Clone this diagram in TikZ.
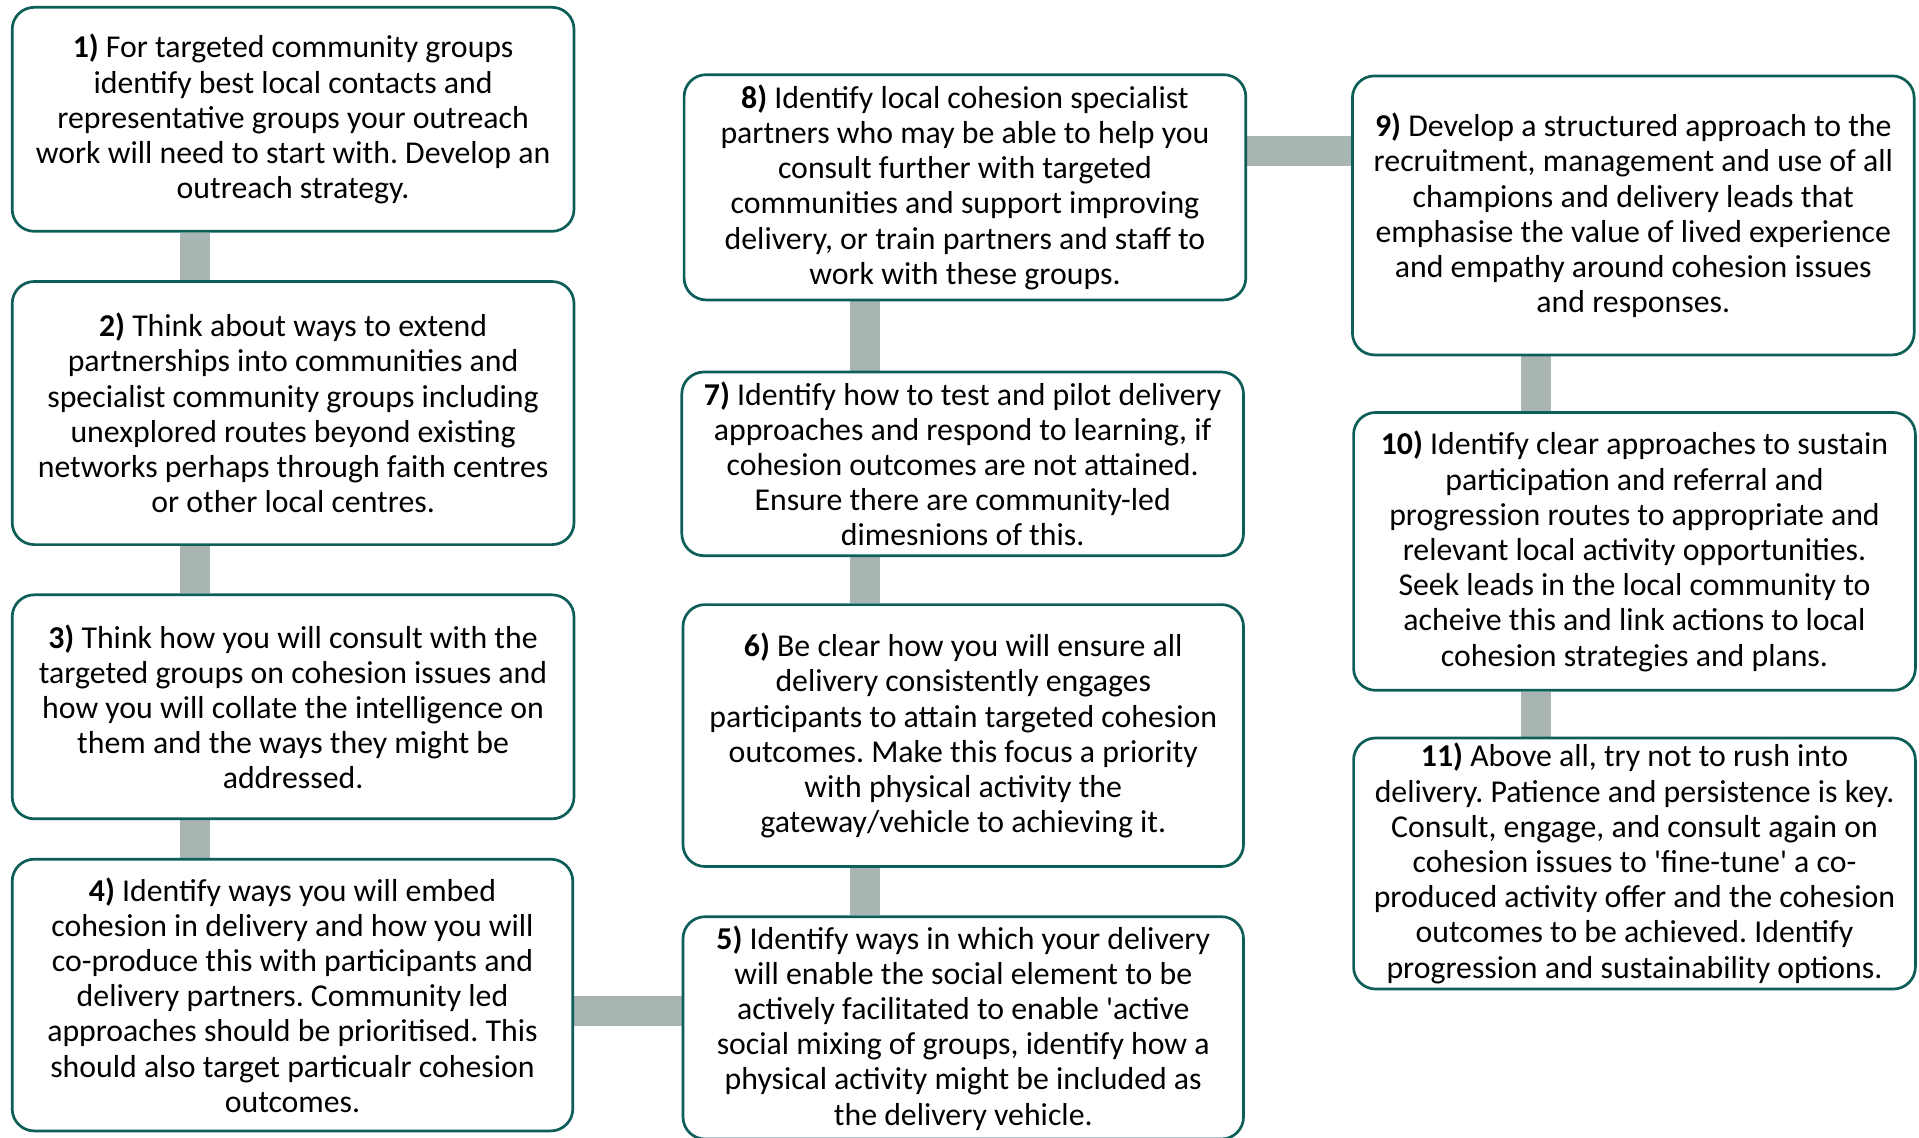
\documentclass[tikz,border=0pt]{standalone}
\usepackage{fontspec}
\setmainfont{Carlito}[Ligatures=TeXOff]
\usetikzlibrary{backgrounds}
\definecolor{boxline}{HTML}{0E5E58}
\definecolor{barcol}{HTML}{A9B5B2}
\tikzset{
  stepbox/.style={draw=boxline, line width=1.35pt, rounded corners=11pt, fill=white,
    align=center, inner sep=0pt, font=\fontsize{15.9pt}{17.6pt}\selectfont\frenchspacing},
  bar/.style={draw=barcol, line width=15pt}
}
\begin{document}
\begin{tikzpicture}[x=0.5pt,y=-0.5pt]
\useasboundingbox (0,0) rectangle (1919,1137);

\node[stepbox, minimum width=280.9pt, minimum height=112pt] (b1) at (293.1,119.3)
 {\textbf{1)} For targeted community groups\\identify best local contacts and\\representative groups your outreach\\work will need to start with. Develop an\\outreach strategy.};
\node[stepbox, minimum width=280.9pt, minimum height=131.55pt] (b2) at (293.1,413.05)
 {\textbf{2)} Think about ways to extend\\partnerships into communities and\\specialist community groups including\\unexplored routes beyond existing\\networks perhaps through faith centres\\or other local centres.};
\node[stepbox, minimum width=280.9pt, minimum height=112pt] (b3) at (293.1,706.8)
 {\textbf{3)} Think how you will consult with the\\targeted groups on cohesion issues and\\how you will collate the intelligence on\\them and the ways they might be\\addressed.};
\node[stepbox, minimum width=280.3pt, minimum height=135.85pt] (b4) at (292.5,995.05)
 {\textbf{4)} Identify ways you will embed\\cohesion in delivery and how you will\\co-produce this with participants and\\delivery partners. Community led\\approaches should be prioritised. This\\should also target particualr cohesion\\outcomes.};
\node[stepbox, minimum width=280.25pt, minimum height=111.15pt] (b5) at (963.25,1027.85)
 {\textbf{5)} Identify ways in which your delivery\\will enable the social element to be\\actively facilitated to enable 'active\\social mixing of groups, identify how a\\physical activity might be included as\\the delivery vehicle.};
\node[stepbox, minimum width=280.25pt, minimum height=130.95pt] (b6) at (963.25,735.55)
 {\textbf{6)} Be clear how you will ensure all\\delivery consistently engages\\participants to attain targeted cohesion\\outcomes. Make this focus a priority\\with physical activity the\\gateway/vehicle to achieving it.};
\node[stepbox, minimum width=280.85pt, minimum height=91.85pt] (b7) at (962.65,463.85)
 {\textbf{7)} Identify how to test and pilot delivery\\approaches and respond to learning, if\\cohesion outcomes are not attained.\\Ensure there are community-led\\dimesnions of this.};
\node[stepbox, minimum width=280.85pt, minimum height=112.6pt] (b8) at (964.95,187.3)
 {\textbf{8)} Identify local cohesion specialist\\partners who may be able to help you\\consult further with targeted\\communities and support improving\\delivery, or train partners and staff to\\work with these groups.};
\node[stepbox, minimum width=280.9pt, minimum height=139.5pt] (b9) at (1633.3,215.4)
 {\textbf{9)} Develop a structured approach to the\\recruitment, management and use of all\\champions and delivery leads that\\emphasise the value of lived experience\\and empathy around cohesion issues\\and responses.};
\node[stepbox, minimum width=280.9pt, minimum height=138.9pt] (b10) at (1634.5,551.4)
 {\textbf{10)} Identify clear approaches to sustain\\participation and referral and\\progression routes to appropriate and\\relevant local activity opportunities.\\Seek leads in the local community to\\acheive this and link actions to local\\cohesion strategies and plans.};
\node[stepbox, minimum width=280.9pt, minimum height=125.5pt] (b11) at (1634.5,863.5)
 {\textbf{11)} Above all, try not to rush into\\delivery. Patience and persistence is key.\\Consult, engage, and consult again on\\cohesion issues to 'fine-tune' a co-\\produced activity offer and the cohesion\\outcomes to be achieved. Identify\\progression and sustainability options.};

\coordinate (c1) at (195,0);
\coordinate (c2) at (865,0);
\coordinate (c3) at (1536,0);
\coordinate (r1) at (0,150.5);
\coordinate (r2) at (0,1011);

\begin{scope}[on background layer]
\fill[white] (0,0) rectangle (1919,1137);
\draw[bar] (b1.south -| c1) -- (b2.north -| c1);
\draw[bar] (b2.south -| c1) -- (b3.north -| c1);
\draw[bar] (b3.south -| c1) -- (b4.north -| c1);
\draw[bar] (b4.east |- r2) -- (b5.west |- r2);
\draw[bar] (b5.north -| c2) -- (b6.south -| c2);
\draw[bar] (b6.north -| c2) -- (b7.south -| c2);
\draw[bar] (b7.north -| c2) -- (b8.south -| c2);
\draw[bar] (b8.east |- r1) -- (b9.west |- r1);
\draw[bar] (b9.south -| c3) -- (b10.north -| c3);
\draw[bar] (b10.south -| c3) -- (b11.north -| c3);
\end{scope}
\end{tikzpicture}
\end{document}
